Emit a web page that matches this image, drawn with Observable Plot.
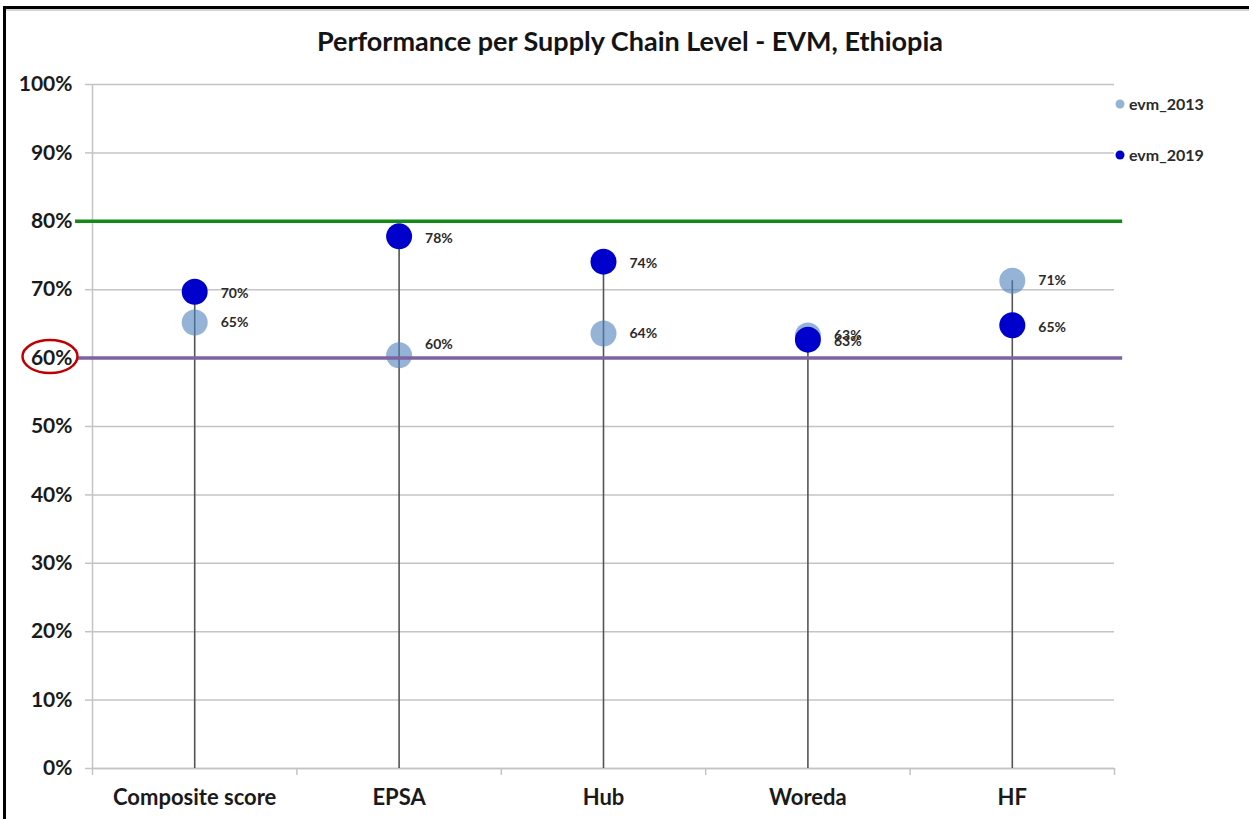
<!DOCTYPE html>
<html>
<head>
<meta charset="utf-8">
<script src="https://cdn.jsdelivr.net/npm/d3@7"></script>
<script src="https://cdn.jsdelivr.net/npm/@observablehq/plot@0.6"></script>
<style>
  html, body { margin: 0; padding: 0; background: #fff; overflow: hidden; }
  #wrap { position: relative; width: 1249px; height: 819px; overflow: hidden; }
  .edge { position: absolute; background: #000; pointer-events: none; }
  #leftEdge { left: 3px; top: 6px; width: 2.5px; height: 820px; }
  #topEdge { left: 3px; top: 6px; width: 1250px; height: 2.5px; }
  #topInner { position: absolute; left: 6px; top: 9px; width: 1250px; height: 1.5px; background: #d4d4d4; }
  svg { font-family: Lato, "Open Sans", sans-serif; display: block; }
</style>
</head>
<body>
<div id="wrap"><div id="chart"></div><div id="leftEdge" class="edge"></div><div id="topEdge" class="edge"></div><div id="topInner"></div></div>
<script>
const categories = ["Composite score", "EPSA", "Hub", "Woreda", "HF"];
const evm2013 = [0.652, 0.604, 0.636, 0.633, 0.713];
const evm2019 = [0.697, 0.778, 0.741, 0.627, 0.648];
const seriesNames = ["evm_2013", "evm_2019"];
const yTicks = [0, 0.1, 0.2, 0.3, 0.4, 0.5, 0.6, 0.7, 0.8, 0.9, 1.0];
const targetHigh = 0.8;
const targetLow = 0.6;
const title = "Performance per Supply Chain Level - EVM, Ethiopia";

const c2013 = "#4f81bd";
const c2019 = "#0000cc";
const pct = d3.format(".0%");

const idx = categories.map((_, i) => i);
const boundaries = [...idx.map(i => i - 0.5), categories.length - 0.5];
const pts2013 = idx.map(i => ({i, v: evm2013[i], s: "2013", label: pct(evm2013[i])}));
const pts2019 = idx.map(i => ({i, v: evm2019[i], s: "2019", label: pct(evm2019[i])}));
const stems = idx.map(i => ({i, top: Math.max(evm2013[i], evm2019[i])}));
// label nudge to keep EPSA 2013 label clear of the target line
const nudged = d => d.s === "2013" && categories[d.i] === "EPSA";

const gridColor = "#c4c4c4";
const textColor = "#1a1a1a";

const plot = Plot.plot({
  width: 1249,
  height: 819,
  marginLeft: 92,
  marginRight: 135,
  marginTop: 84,
  marginBottom: 51,
  style: {fontFamily: "Lato, 'Open Sans', sans-serif", background: "#fff"},
  x: {type: "linear", domain: [-0.5, categories.length - 0.5]},
  y: {domain: [0, 1]},
  marks: [
    Plot.gridY(yTicks, {stroke: gridColor, strokeOpacity: 1, strokeWidth: 1.5}),
    Plot.ruleX([-0.5], {stroke: gridColor, strokeWidth: 1.5}),
    Plot.ruleY([0], {stroke: gridColor, strokeWidth: 1.5}),
    Plot.axisY({ticks: yTicks, tickFormat: pct, tickSize: 7, tickPadding: 13,
      stroke: gridColor, strokeWidth: 1.5, fill: textColor, fontSize: 21, fontWeight: "bold", label: null}),
    Plot.axisX({ticks: boundaries, tickFormat: () => "", tickSize: 7, stroke: gridColor, strokeWidth: 1.5, label: null}),
    Plot.axisX({ticks: idx, tickFormat: i => categories[i], tickSize: 0, tickPadding: 21,
      fill: textColor, fontSize: 22, fontWeight: "bold", label: null}),
    Plot.ruleX(stems, {x: "i", y1: 0, y2: "top", stroke: "#555", strokeWidth: 1.6}),
    Plot.dot(pts2013, {x: "i", y: "v", r: 13, fill: c2013, fillOpacity: 0.6, stroke: "none"}),
    Plot.dot(pts2019, {x: "i", y: "v", r: 13, fill: c2019, stroke: "none"}),
    Plot.ruleY([targetHigh], {x1: -0.583, x2: 4.54, stroke: "#138a13", strokeWidth: 3.5}),
    Plot.ruleY([targetLow], {x1: -0.57, x2: 4.54, stroke: "#7e63a3", strokeWidth: 3.5}),
    Plot.text(pts2013.filter(d => !nudged(d)), {x: "i", y: "v", text: "label", dx: 26, dy: 0, textAnchor: "start",
      fontSize: 14, fontWeight: "bold", fill: "#2a2a2a"}),
    Plot.text(pts2013.filter(nudged), {x: "i", y: "v", text: "label", dx: 26, dy: -11, textAnchor: "start",
      fontSize: 14, fontWeight: "bold", fill: "#2a2a2a"}),
    Plot.text(pts2019, {x: "i", y: "v", text: "label", dx: 26, dy: 2, textAnchor: "start",
      fontSize: 14, fontWeight: "bold", fill: "#2a2a2a"})
  ]
});

document.getElementById("chart").appendChild(plot);

const svg = d3.select(plot);
const ys = plot.scale("y");
const xs = plot.scale("x");

// title
svg.append("text")
  .attr("x", 630).attr("y", 51)
  .attr("text-anchor", "middle")
  .attr("font-size", 27).attr("font-weight", "bold").attr("fill", "#141414")
  .text(title);

// legend
const legendColors = [{c: c2013, o: 0.6}, {c: c2019, o: 1}];
const lx = xs.apply(categories.length - 0.5) + 6;
seriesNames.forEach((name, k) => {
  const ly = 104 + k * 51;
  svg.append("circle").attr("cx", lx).attr("cy", ly).attr("r", 4.5)
    .attr("fill", legendColors[k].c).attr("fill-opacity", legendColors[k].o);
  svg.append("text").attr("x", lx + 9).attr("y", ly).attr("dy", "0.35em")
    .attr("text-anchor", "start")
    .attr("font-size", 16).attr("font-weight", "bold").attr("fill", "#2a2a2a")
    .text(name);
});

// red highlight around the 60% tick label
svg.append("ellipse")
  .attr("cx", xs.apply(-0.5) - 42).attr("cy", ys.apply(targetLow) - 1)
  .attr("rx", 27.5).attr("ry", 16.5)
  .attr("fill", "none").attr("stroke", "#c00000").attr("stroke-width", 2.5);
</script>
</body>
</html>
